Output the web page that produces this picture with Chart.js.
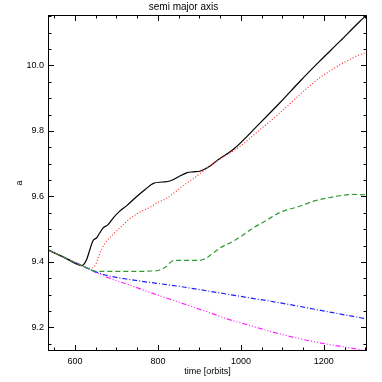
<!DOCTYPE html>
<html>
<head>
<meta charset="utf-8">
<script src="https://cdn.jsdelivr.net/npm/chart.js@4/dist/chart.umd.min.js"></script>
<style>
html,body{margin:0;padding:0;background:#fff;}
#wrap{width:382px;height:382px;position:relative;}
</style>
</head>
<body>
<div id="wrap"><canvas id="c" width="382" height="382"></canvas></div>
<script>
// ---- data ----
const xRange = [535, 1304];
const yRange = [9.128, 10.154];
const xMajorTicks = [600, 800, 1000, 1200];
const yMajorTicks = [9.2, 9.4, 9.6, 9.8, 10.0];

const sharedT = [535, 575, 616];
const sharedA = [9.437, 9.413, 9.389];

const blackT = [628, 636, 644, 652, 660, 668, 680, 692, 708, 725, 749, 770, 789, 810, 829, 850, 869, 885, 901, 925, 945, 982, 1046, 1094, 1142, 1190, 1239, 1287, 1304];
const blackA = [9.407, 9.438, 9.466, 9.473, 9.489, 9.504, 9.514, 9.534, 9.555, 9.572, 9.600, 9.622, 9.640, 9.644, 9.647, 9.660, 9.672, 9.675, 9.677, 9.692, 9.712, 9.744, 9.824, 9.886, 9.951, 10.013, 10.074, 10.135, 10.155];

const redT = [632, 648, 656, 664, 676, 692, 708, 725, 740, 761, 781, 800, 821, 837, 861, 885, 909, 941, 998, 1046, 1094, 1142, 1190, 1239, 1287, 1304];
const redA = [9.381, 9.388, 9.412, 9.438, 9.463, 9.484, 9.504, 9.524, 9.539, 9.555, 9.567, 9.582, 9.594, 9.609, 9.633, 9.654, 9.677, 9.707, 9.753, 9.804, 9.855, 9.911, 9.962, 10.002, 10.033, 10.039];

const greenT = [640, 652, 725, 797, 812, 821, 837, 870, 901, 917, 933, 950, 981, 1006, 1030, 1062, 1094, 1142, 1174, 1207, 1239, 1271, 1303];
const greenA = [9.375, 9.371, 9.371, 9.373, 9.380, 9.387, 9.404, 9.405, 9.405, 9.412, 9.427, 9.443, 9.463, 9.483, 9.504, 9.527, 9.551, 9.570, 9.585, 9.595, 9.602, 9.606, 9.605];

const blueT = [652, 680, 733, 853, 974, 1094, 1142, 1222, 1303];
const blueA = [9.369, 9.358, 9.346, 9.325, 9.300, 9.275, 9.264, 9.245, 9.226];

const magentaT = [652, 684, 733, 765, 853, 925, 974, 1005, 1085, 1165, 1245, 1304];
const magentaA = [9.367, 9.350, 9.329, 9.314, 9.276, 9.245, 9.223, 9.212, 9.183, 9.159, 9.141, 9.129];

function pts(ts, as) {
  const t = sharedT.concat(ts), a = sharedA.concat(as);
  return t.map((v, i) => ({x: v, y: a[i]}));
}

const FONT = "'Liberation Sans', Helvetica, Arial, sans-serif";

const frameTicks = {
  id: 'frameTicks',
  afterDatasetsDraw(chart) {
    const {ctx, chartArea: {left, right, top, bottom}, scales: {x, y}} = chart;
    ctx.save();
    ctx.strokeStyle = '#000';
    ctx.lineWidth = 1;
    ctx.strokeRect(Math.round(left) + 0.5, Math.round(top) + 0.5, Math.round(right - left) - 1, Math.round(bottom - top) - 1);
    ctx.beginPath();
    x.ticks.forEach(t => {
      const p = Math.round(x.getPixelForValue(t.value)) + 0.5;
      const major = xMajorTicks.some(m => Math.abs(m - t.value) < 1e-6);
      const len = major ? 6 : 3.5;
      ctx.moveTo(p, bottom); ctx.lineTo(p, bottom - len);
      ctx.moveTo(p, top); ctx.lineTo(p, top + len);
    });
    y.ticks.forEach(t => {
      const p = Math.round(y.getPixelForValue(t.value)) + 0.5;
      const major = yMajorTicks.some(m => Math.abs(m - t.value) < 1e-6);
      const len = major ? 6 : 3.5;
      ctx.moveTo(left, p); ctx.lineTo(left + len, p);
      ctx.moveTo(right, p); ctx.lineTo(right - len, p);
    });
    ctx.stroke();
    ctx.restore();
  }
};

const common = {pointRadius: 0, borderWidth: 1.2, fill: false, cubicInterpolationMode: 'monotone'};

new Chart(document.getElementById('c'), {
  type: 'line',
  data: {
    datasets: [
      Object.assign({label: 'green', data: pts(greenT, greenA), borderColor: '#2f9a2f', borderDash: [5, 3]}, common),
      Object.assign({label: 'red', data: pts(redT, redA), borderColor: '#ff3030', borderDash: [1, 2]}, common),
      Object.assign({label: 'black', data: pts(blackT, blackA), borderColor: '#000000'}, common),
      Object.assign({label: 'blue', data: pts(blueT, blueA), borderColor: '#2020ff', borderDash: [5, 2, 1, 2]}, common),
      Object.assign({label: 'magenta', data: pts(magentaT, magentaA), borderColor: '#ff20ff', borderDash: [5, 2, 1, 2, 1, 2, 1, 2]}, common)
    ]
  },
  options: {
    responsive: false,
    animation: false,
    devicePixelRatio: 1,
    layout: {padding: {left: 0, right: 15, top: 0, bottom: 0}},
    plugins: {
      legend: {display: false},
      tooltip: {enabled: false},
      title: {
        display: true,
        text: 'semi major axis',
        color: '#000',
        font: {family: FONT, size: 10, weight: 'normal'},
        padding: {top: 1, bottom: 2}
      }
    },
    scales: {
      x: {
        type: 'linear',
        min: xRange[0], max: xRange[1],
        grid: {display: false, drawTicks: false},
        border: {display: false},
        ticks: {
          stepSize: 50, includeBounds: false, autoSkip: false, maxRotation: 0,
          color: '#000', padding: 5,
          font: {family: FONT, size: 9},
          callback: v => xMajorTicks.includes(v) ? String(v) : ''
        },
        title: {display: true, text: 'time [orbits]', color: '#000', font: {family: FONT, size: 9}, padding: {top: 0, bottom: 5}},
        afterFit: s => { s.height = 31; }
      },
      y: {
        type: 'linear',
        min: yRange[0], max: yRange[1],
        grid: {display: false, drawTicks: false},
        border: {display: false},
        ticks: {
          stepSize: 0.05, includeBounds: false, autoSkip: false,
          color: '#000', padding: 4,
          font: {family: FONT, size: 9},
          callback: v => yMajorTicks.some(m => Math.abs(m - v) < 1e-6) ? v.toFixed(1) : ''
        },
        title: {display: true, text: 'a', color: '#000', font: {family: FONT, size: 9}, padding: {top: 14, bottom: 0}},
        afterFit: s => { s.width = 48; }
      }
    }
  },
  plugins: [frameTicks]
});
</script>
</body>
</html>
